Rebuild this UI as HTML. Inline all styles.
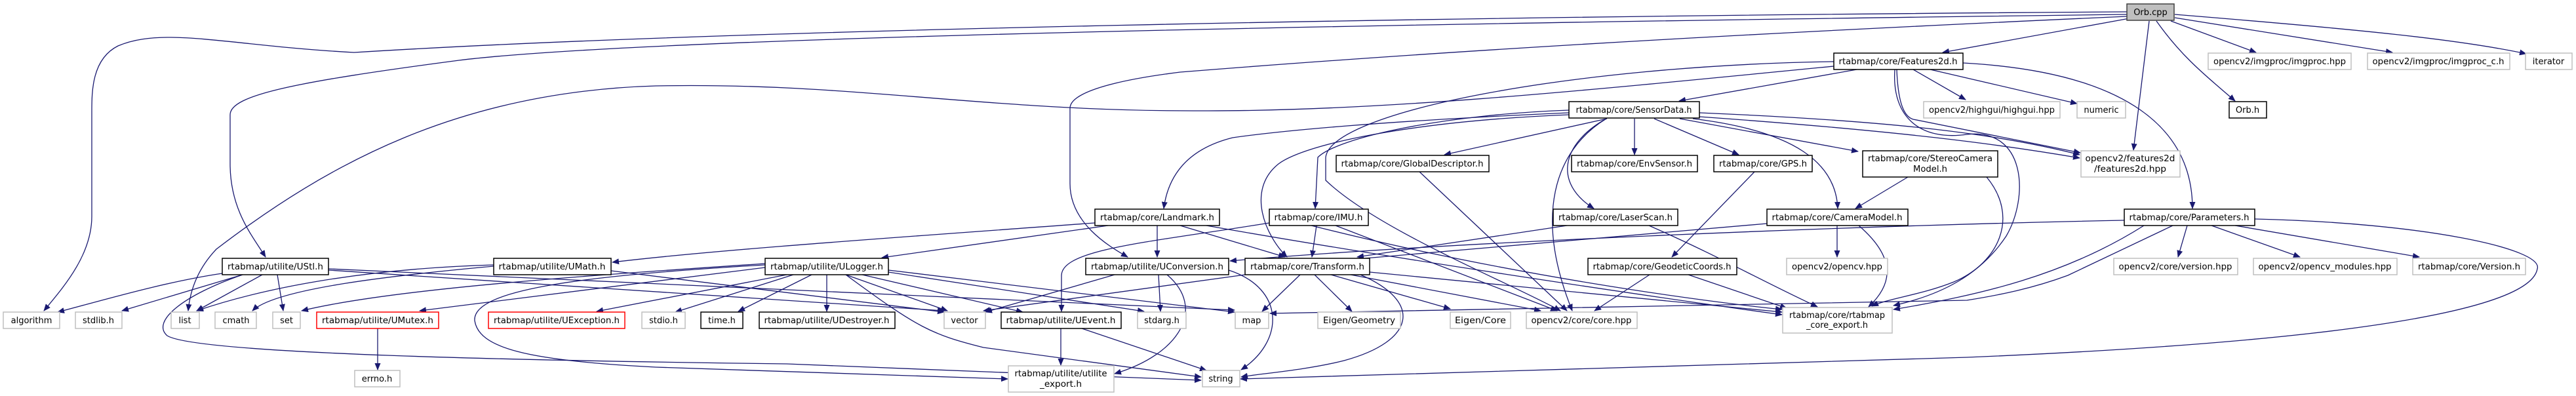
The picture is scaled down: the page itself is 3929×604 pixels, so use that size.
<!DOCTYPE html>
<html><head><meta charset="utf-8"><style>
html,body{margin:0;padding:0;background:#fff;}
svg{display:block;}
text{font-family:"DejaVu Sans","Liberation Sans",sans-serif;font-size:13px;fill:#000;text-anchor:middle;}
.e{fill:none;stroke:#191970;stroke-width:1.3;marker-end:url(#a);}
.b{fill:#fff;stroke:#000;stroke-width:1.5;}
.g{fill:#fff;stroke:#bfbfbf;stroke-width:1.5;}
.r{fill:#fff;stroke:#ff0000;stroke-width:1.5;}
</style></head><body>
<svg width="3929" height="604" viewBox="0 0 3929 604" xmlns="http://www.w3.org/2000/svg">
<defs><marker id="a" markerWidth="11" markerHeight="9" refX="10" refY="4.5" orient="auto" markerUnits="userSpaceOnUse"><path d="M0,0 L11,4.5 L0,9z" fill="#191970"/></marker></defs>
<g>
<path class="e" d="M3244,18 C2200,25 1100,45 540,80 C350,70 250,40 180,70 C140,90 140,140 140,170 L140,330 C140,390 95,440 67,474"/>
<path class="e" d="M3244,22 C2200,35 1000,55 700,92 C450,125 351,145 351,175 L351,250 C351,320 385,360 405,392"/>
<path class="e" d="M3244,25 C2800,45 2300,70 1800,110 C1680,125 1632,145 1632,165 L1632,280 C1632,340 1690,375 1720,392"/>
<path class="e" d="M3248,28 L2963,80"/>
<path class="e" d="M3278,32 L3254,229"/>
<path class="e" d="M3289,32 C3330,90 3370,120 3409,154"/>
<path class="e" d="M3311,32 L3441,80"/>
<path class="e" d="M3317,27 L3649,80"/>
<path class="e" d="M3317,22 C3600,45 3750,60 3853,82"/>
<path class="e" d="M2797,101 C2400,140 2100,170 1830,169 C1500,170 1300,125 1000,131 C700,140 500,250 330,380 Q292,420 287,474"/>
<path class="e" d="M2797,94 C2400,100 2030,170 2022,240 L2022,275 C2100,350 2300,430 2380,474"/>
<path class="e" d="M2832,106 L2561,154"/>
<path class="e" d="M2994,96 C3250,110 3344,200 3344,318"/>
<path class="e" d="M2918,106 L2998,152"/>
<path class="e" d="M2944,106 L3168,158"/>
<path class="e" d="M2893,106 C2895,160 2905,178 2918,182 L3173,233"/>
<path class="e" d="M2890,106 C2885,180 2930,215 3000,205 C3090,195 3095,300 3060,360 C3020,420 2960,450 2888,466"/>
<path class="e" d="M3030,270 C3080,330 3050,400 2980,430 C2930,450 2880,455 2855,467"/>
<path class="e" d="M2393,172 C2100,185 1950,200 1880,210 C1800,230 1780,280 1775,318"/>
<path class="e" d="M2393,168 C2200,175 2040,210 2010,240 L2006,318"/>
<path class="e" d="M2393,175 C2150,185 1990,220 1950,250 C1900,290 1930,360 1963,392"/>
<path class="e" d="M2451,181 L2203,236"/>
<path class="e" d="M2493,181 L2493,236"/>
<path class="e" d="M2523,181 L2652,236"/>
<path class="e" d="M2562,181 L2834,231"/>
<path class="e" d="M2582,181 C2740,200 2800,250 2803,318"/>
<path class="e" d="M2450,181 C2380,220 2370,280 2431,318"/>
<path class="e" d="M2450,181 C2370,230 2340,330 2398,474"/>
<path class="e" d="M2592,172 C2900,185 3050,205 3172,236"/>
<path class="e" d="M2592,178 C2900,200 3050,220 3172,241"/>
<path class="e" d="M1670,340 C1400,360 1100,380 934,400"/>
<path class="e" d="M1690,344 L1345,393"/>
<path class="e" d="M1765,344 L1765,392"/>
<path class="e" d="M1800,344 L1960,392"/>
<path class="e" d="M1840,344 C2100,390 2500,450 2718,480"/>
<path class="e" d="M1936,340 C1750,370 1620,380 1619,420 L1619,475"/>
<path class="e" d="M2008,344 L2001,392"/>
<path class="e" d="M2037,344 L2375,474"/>
<path class="e" d="M2000,344 C2300,420 2600,460 2718,472"/>
<path class="e" d="M1899,419 L1500,474"/>
<path class="e" d="M1983,419 L1925,475"/>
<path class="e" d="M2075,419 C2170,460 2160,520 2050,550 C1990,565 1920,570 1893,575"/>
<path class="e" d="M2005,419 L2062,475"/>
<path class="e" d="M2030,419 L2212,471"/>
<path class="e" d="M2060,419 L2350,474"/>
<path class="e" d="M2089,415 L2718,476"/>
<path class="e" d="M1700,419 L1503,476"/>
<path class="e" d="M1767,419 L1770,475"/>
<path class="e" d="M1874,412 C1960,440 1960,520 1893,564"/>
<path class="e" d="M1780,419 C1840,470 1800,540 1700,570"/>
<path class="e" d="M1167,408 C900,440 750,460 640,474"/>
<path class="e" d="M1200,419 L910,475"/>
<path class="e" d="M1210,419 L1030,476"/>
<path class="e" d="M1238,419 L1126,475"/>
<path class="e" d="M1261,419 L1261,475"/>
<path class="e" d="M1290,419 L1445,474"/>
<path class="e" d="M1315,419 L1560,476"/>
<path class="e" d="M1355,415 L1745,475"/>
<path class="e" d="M1355,412 L1883,476"/>
<path class="e" d="M1290,419 C1400,500 1420,510 1500,530 L1832,575"/>
<path class="e" d="M1167,404 C900,420 720,440 724,489 C730,530 800,550 1000,560 L1537,578"/>
<path class="e" d="M1167,402 C900,420 600,440 460,474"/>
<path class="e" d="M753,406 C600,420 420,440 385,474"/>
<path class="e" d="M753,404 C550,410 400,440 300,474"/>
<path class="e" d="M932,413 L1440,476"/>
<path class="e" d="M339,417 C250,430 150,460 88,476"/>
<path class="e" d="M370,419 L186,474"/>
<path class="e" d="M370,419 C280,450 230,490 255,512 C300,540 800,550 1200,555 L1832,580"/>
<path class="e" d="M400,419 L300,474"/>
<path class="e" d="M423,419 L432,474"/>
<path class="e" d="M501,412 L1440,474"/>
<path class="e" d="M501,410 L1883,473"/>
<path class="e" d="M1618,501 L1618,557"/>
<path class="e" d="M1650,501 L1840,565"/>
<path class="e" d="M576,501 L576,564"/>
<path class="e" d="M2516,419 L2432,474"/>
<path class="e" d="M2575,419 L2725,470"/>
<path class="e" d="M2676,262 L2550,392"/>
<path class="e" d="M2165,262 L2390,474"/>
<path class="e" d="M2390,344 L2070,392"/>
<path class="e" d="M2515,344 C2620,390 2690,430 2772,468"/>
<path class="e" d="M2695,341 L2070,395"/>
<path class="e" d="M2802,344 L2802,392"/>
<path class="e" d="M2835,344 C2900,400 2880,440 2850,468"/>
<path class="e" d="M2910,270 L2830,318"/>
<path class="e" d="M3240,336 C2800,345 2200,370 1876,398"/>
<path class="e" d="M3314,344 L3154,420 C3100,440 3050,450 3000,458 L1937,478"/>
<path class="e" d="M3336,344 L3322,392"/>
<path class="e" d="M3373,344 L3508,392"/>
<path class="e" d="M3409,344 L3690,392"/>
<path class="e" d="M3439,334 C3700,340 3880,380 3870,410 C3860,470 3600,520 3000,545 L1892,578"/>
<path class="e" d="M3270,344 C3150,420 3020,450 2888,472"/>
</g>
<g>
<rect class="g" x="5" y="476" width="86" height="25"/><text x="48" y="493">algorithm</text>
<rect class="g" x="115" y="476" width="71" height="25"/><text x="150" y="493">stdlib.h</text>
<rect class="g" x="261" y="476" width="43" height="25"/><text x="282" y="493">list</text>
<rect class="g" x="328" y="476" width="63" height="25"/><text x="360" y="493">cmath</text>
<rect class="g" x="416" y="476" width="42" height="25"/><text x="437" y="493">set</text>
<rect class="r" x="483" y="476" width="186" height="25"/><text x="576" y="493" textLength="170" lengthAdjust="spacingAndGlyphs">rtabmap/utilite/UMutex.h</text>
<rect class="r" x="745" y="476" width="208" height="25"/><text x="849" y="493" textLength="192" lengthAdjust="spacingAndGlyphs">rtabmap/utilite/UException.h</text>
<rect class="g" x="979" y="476" width="66" height="25"/><text x="1012" y="493">stdio.h</text>
<rect class="b" x="1069" y="476" width="64" height="25"/><text x="1101" y="493">time.h</text>
<rect class="b" x="1158" y="476" width="207" height="25"/><text x="1261" y="493" textLength="191" lengthAdjust="spacingAndGlyphs">rtabmap/utilite/UDestroyer.h</text>
<rect class="g" x="1440" y="476" width="63" height="25"/><text x="1471" y="493">vector</text>
<rect class="b" x="1527" y="476" width="183" height="25"/><text x="1618" y="493" textLength="167" lengthAdjust="spacingAndGlyphs">rtabmap/utilite/UEvent.h</text>
<rect class="g" x="1735" y="476" width="74" height="25"/><text x="1772" y="493">stdarg.h</text>
<rect class="g" x="1884" y="476" width="51" height="25"/><text x="1909" y="493">map</text>
<rect class="g" x="2010" y="476" width="126" height="25"/><text x="2073" y="493" textLength="110" lengthAdjust="spacingAndGlyphs">Eigen/Geometry</text>
<rect class="g" x="2212" y="476" width="92" height="25"/><text x="2258" y="493" textLength="78" lengthAdjust="spacingAndGlyphs">Eigen/Core</text>
<rect class="g" x="2328" y="476" width="169" height="25"/><text x="2412" y="493" textLength="153" lengthAdjust="spacingAndGlyphs">opencv2/core/core.hpp</text>
<rect class="g" x="2719" y="469" width="167" height="39"/><text x="2802" y="485" textLength="146" lengthAdjust="spacingAndGlyphs">rtabmap/core/rtabmap</text><text x="2802" y="500" textLength="94" lengthAdjust="spacingAndGlyphs">_core_export.h</text>
<rect class="g" x="541" y="565" width="69" height="25"/><text x="575" y="582">errno.h</text>
<rect class="g" x="1538" y="558" width="161" height="40"/><text x="1618" y="574" textLength="141" lengthAdjust="spacingAndGlyphs">rtabmap/utilite/utilite</text><text x="1618" y="590" textLength="64" lengthAdjust="spacingAndGlyphs">_export.h</text>
<rect class="g" x="1834" y="565" width="57" height="25"/><text x="1862" y="582">string</text>

<rect class="b" x="339" y="394" width="162" height="25"/><text x="420" y="411" textLength="146" lengthAdjust="spacingAndGlyphs">rtabmap/utilite/UStl.h</text>
<rect class="b" x="753" y="394" width="179" height="25"/><text x="842" y="411" textLength="163" lengthAdjust="spacingAndGlyphs">rtabmap/utilite/UMath.h</text>
<rect class="b" x="1167" y="394" width="188" height="25"/><text x="1261" y="411" textLength="172" lengthAdjust="spacingAndGlyphs">rtabmap/utilite/ULogger.h</text>
<rect class="b" x="1656" y="394" width="218" height="25"/><text x="1765" y="411" textLength="202" lengthAdjust="spacingAndGlyphs">rtabmap/utilite/UConversion.h</text>
<rect class="b" x="1899" y="394" width="190" height="25"/><text x="1994" y="411" textLength="174" lengthAdjust="spacingAndGlyphs">rtabmap/core/Transform.h</text>
<rect class="b" x="2422" y="394" width="227" height="25"/><text x="2535" y="411" textLength="211" lengthAdjust="spacingAndGlyphs">rtabmap/core/GeodeticCoords.h</text>
<rect class="g" x="2725" y="394" width="154" height="25"/><text x="2802" y="411" textLength="138" lengthAdjust="spacingAndGlyphs">opencv2/opencv.hpp</text>
<rect class="g" x="3224" y="394" width="189" height="25"/><text x="3318" y="411" textLength="173" lengthAdjust="spacingAndGlyphs">opencv2/core/version.hpp</text>
<rect class="g" x="3437" y="394" width="219" height="25"/><text x="3546" y="411" textLength="203" lengthAdjust="spacingAndGlyphs">opencv2/opencv_modules.hpp</text>
<rect class="g" x="3680" y="394" width="172" height="25"/><text x="3766" y="411" textLength="156" lengthAdjust="spacingAndGlyphs">rtabmap/core/Version.h</text>

<rect class="b" x="1670" y="319" width="190" height="25"/><text x="1765" y="336" textLength="174" lengthAdjust="spacingAndGlyphs">rtabmap/core/Landmark.h</text>
<rect class="b" x="1936" y="319" width="151" height="25"/><text x="2011" y="336" textLength="135" lengthAdjust="spacingAndGlyphs">rtabmap/core/IMU.h</text>
<rect class="b" x="2369" y="319" width="190" height="25"/><text x="2464" y="336" textLength="174" lengthAdjust="spacingAndGlyphs">rtabmap/core/LaserScan.h</text>
<rect class="b" x="2695" y="319" width="215" height="25"/><text x="2802" y="336" textLength="199" lengthAdjust="spacingAndGlyphs">rtabmap/core/CameraModel.h</text>
<rect class="b" x="3240" y="319" width="199" height="25"/><text x="3339" y="336" textLength="183" lengthAdjust="spacingAndGlyphs">rtabmap/core/Parameters.h</text>

<rect class="b" x="2038" y="237" width="233" height="25"/><text x="2154" y="254" textLength="217" lengthAdjust="spacingAndGlyphs">rtabmap/core/GlobalDescriptor.h</text>
<rect class="b" x="2397" y="237" width="192" height="25"/><text x="2493" y="254" textLength="176" lengthAdjust="spacingAndGlyphs">rtabmap/core/EnvSensor.h</text>
<rect class="b" x="2614" y="237" width="150" height="25"/><text x="2689" y="254" textLength="134" lengthAdjust="spacingAndGlyphs">rtabmap/core/GPS.h</text>
<rect class="b" x="2841" y="230" width="206" height="40"/><text x="2944" y="246" textLength="190" lengthAdjust="spacingAndGlyphs">rtabmap/core/StereoCamera</text><text x="2944" y="262" textLength="52" lengthAdjust="spacingAndGlyphs">Model.h</text>
<rect class="g" x="3174" y="230" width="151" height="40"/><text x="3249" y="246" textLength="137" lengthAdjust="spacingAndGlyphs">opencv2/features2d</text><text x="3249" y="262" textLength="110" lengthAdjust="spacingAndGlyphs">/features2d.hpp</text>

<rect class="b" x="2393" y="155" width="199" height="25"/><text x="2492" y="172" textLength="177" lengthAdjust="spacingAndGlyphs">rtabmap/core/SensorData.h</text>
<rect class="g" x="2934" y="155" width="208" height="25"/><text x="3038" y="172" textLength="192" lengthAdjust="spacingAndGlyphs">opencv2/highgui/highgui.hpp</text>
<rect class="g" x="3168" y="155" width="74" height="25"/><text x="3205" y="172">numeric</text>
<rect class="b" x="3400" y="155" width="57" height="25"/><text x="3428" y="172">Orb.h</text>

<rect class="b" x="2797" y="81" width="197" height="25"/><text x="2895" y="98" textLength="181" lengthAdjust="spacingAndGlyphs">rtabmap/core/Features2d.h</text>
<rect class="g" x="3368" y="81" width="218" height="25"/><text x="3477" y="98" textLength="202" lengthAdjust="spacingAndGlyphs">opencv2/imgproc/imgproc.hpp</text>
<rect class="g" x="3611" y="81" width="217" height="25"/><text x="3719" y="98" textLength="201" lengthAdjust="spacingAndGlyphs">opencv2/imgproc/imgproc_c.h</text>
<rect class="g" x="3852" y="81" width="71" height="25"/><text x="3887" y="98">iterator</text>

<rect x="3244" y="6" width="72" height="25" fill="#bfbfbf" stroke="#404040" stroke-width="1.5"/><text x="3280" y="23">Orb.cpp</text>
</g>
</svg>
</body></html>
